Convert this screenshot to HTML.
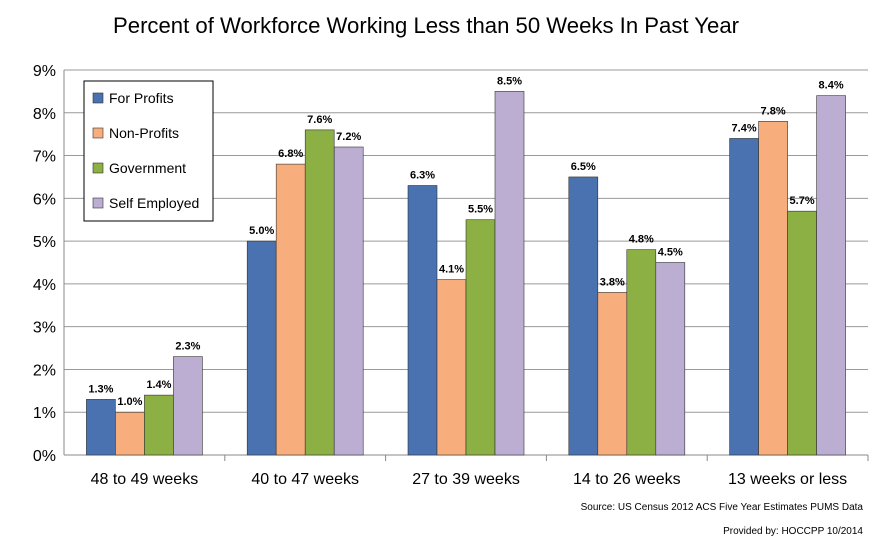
<!DOCTYPE html>
<html><head><meta charset="utf-8"><style>
body{margin:0;background:#fff;}
svg text{font-family:"Liberation Sans",sans-serif;}
</style></head><body>
<svg width="892" height="545" viewBox="0 0 892 545" xmlns="http://www.w3.org/2000/svg" id="chart">
<rect width="892" height="545" fill="#fff"/>
<text x="426" y="33" text-anchor="middle" font-size="22" textLength="626" lengthAdjust="spacingAndGlyphs" fill="#000">Percent of Workforce Working Less than 50 Weeks In Past Year</text>
<g id="grid"></g><g id="bars"></g><g id="labels"></g><g id="axes"></g>
<g>
<rect x="84" y="81" width="129" height="140" fill="#fff" stroke="#000" stroke-width="1"/>
</g>
<g id="legend"></g>
<text x="863" y="510" text-anchor="end" font-size="10" fill="#000">Source: US Census 2012 ACS Five Year Estimates PUMS Data</text>
<text x="863" y="534" text-anchor="end" font-size="10" fill="#000">Provided by: HOCCPP 10/2014</text>
</svg>
<script>
const categories=["48 to 49 weeks","40 to 47 weeks","27 to 39 weeks","14 to 26 weeks","13 weeks or less"];
const seriesNames=["For Profits","Non-Profits","Government","Self Employed"];
const forProfits=[1.3,5.0,6.3,6.5,7.4];
const nonProfits=[1.0,6.8,4.1,3.8,7.8];
const government=[1.4,7.6,5.5,4.8,5.7];
const selfEmployed=[2.3,7.2,8.5,4.5,8.4];
const yTicks=[0,1,2,3,4,5,6,7,8,9];
const colors=["#4a72b0","#f8ae7c","#8cb043","#bcaed2"];
const series=[forProfits,nonProfits,government,selfEmployed];
const NS="http://www.w3.org/2000/svg";
const L=64,R=868,T=70,B=455,yMax=9;
const y=v=>B-(v/yMax)*(B-T);
const cw=(R-L)/categories.length, bw=29;
const x=(c,s)=>L+c*cw+(cw-4*bw)/2+s*bw;
function mk(tag,attrs,parent,text){const e=document.createElementNS(NS,tag);for(const k in attrs)e.setAttribute(k,attrs[k]);if(text!==undefined)e.textContent=text;document.getElementById(parent).appendChild(e);return e;}
yTicks.forEach(t=>{
 const g=mk('line',{x1:L,x2:R,y1:y(t),y2:y(t),stroke:t===0?'#888':'#9a9a9a','stroke-width':1},'grid');
 
 
 const tl=mk('text',{x:L-8,y:y(t)+6,'text-anchor':'end','font-size':16,fill:'#000'},'axes',t+'%');
 
 
});
const ax=mk('line',{x1:L,x2:L,y1:T,y2:B,stroke:'#888'},'axes');


categories.forEach((c,i)=>{
 const tk=mk('line',{x1:L+(i+1)*cw,x2:L+(i+1)*cw,y1:B,y2:B+6,stroke:'#888'},'axes');
 
 
 const cl=mk('text',{x:L+(i+0.5)*cw,y:B+29,'text-anchor':'middle','font-size':16,fill:'#000'},'axes',c);
 
 
 series.forEach((s,j)=>{
  const r=mk('rect',{x:x(i,j),y:y(s[i]),width:bw,height:B-y(s[i]),fill:colors[j],stroke:'#333','stroke-width':0.6},'bars');
  
  
  const lb=mk('text',{x:x(i,j)+bw/2,y:y(s[i])-7,'text-anchor':'middle','font-size':11,'font-weight':'bold',fill:'#000'},'labels',s[i].toFixed(1)+'%');
  
  
 });
});
seriesNames.forEach((n,j)=>{
 const yy=98+j*35;
 const sw=mk('rect',{x:93,y:yy-5,width:10,height:10,fill:colors[j],stroke:'#333','stroke-width':0.6},'legend');
 
 
 const t=mk('text',{x:109,y:yy+5,'font-size':14,fill:'#000'},'legend',n);
 
 
});
</script>
</body></html>
